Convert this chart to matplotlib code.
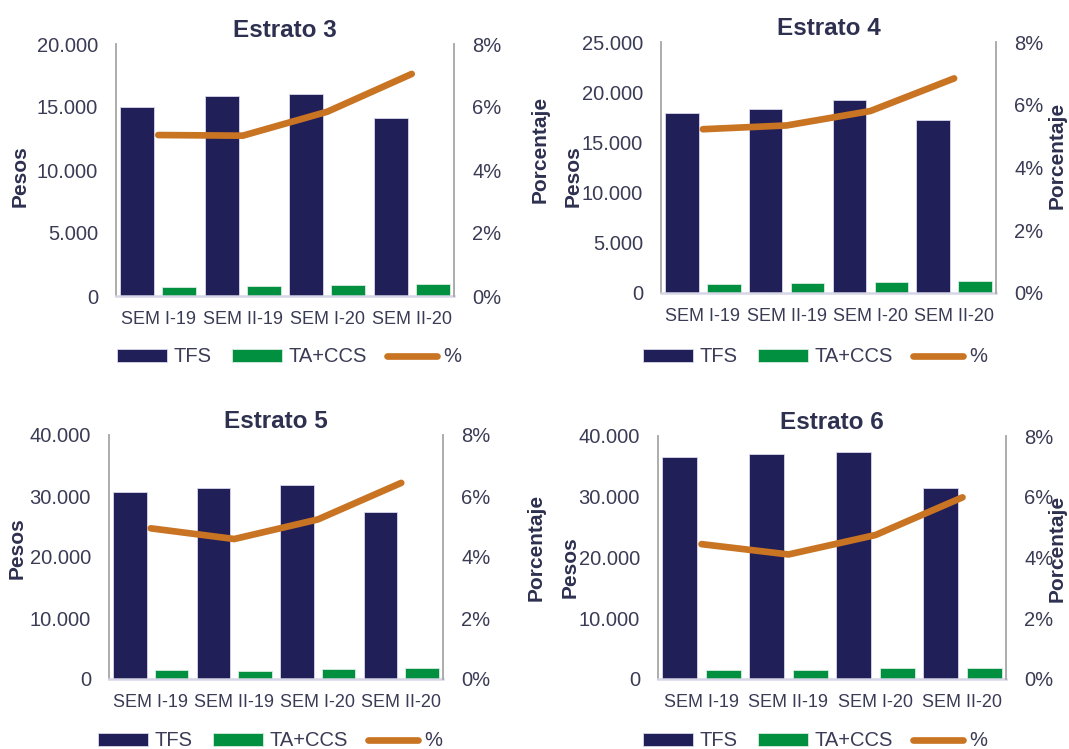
import matplotlib.pyplot as plt
from matplotlib.ticker import FuncFormatter

plt.rcParams['font.family'] = ['Liberation Sans', 'DejaVu Sans']

categories = ["SEM I-19", "SEM II-19", "SEM I-20", "SEM II-20"]

titles = ["Estrato 3", "Estrato 4", "Estrato 5", "Estrato 6"]

tfs_e3 = [15000, 15900, 16000, 14150]
ta_e3 = [750, 790, 900, 980]
pct_e3 = [5.11, 5.09, 5.85, 7.05]

tfs_e4 = [17900, 18300, 19200, 17200]
ta_e4 = [900, 960, 1050, 1150]
pct_e4 = [5.22, 5.34, 5.80, 6.84]

tfs_e5 = [30700, 31300, 31800, 27400]
ta_e5 = [1480, 1320, 1640, 1740]
pct_e5 = [4.94, 4.59, 5.23, 6.43]

tfs_e6 = [36500, 37100, 37300, 31500]
ta_e6 = [1530, 1410, 1750, 1860]
pct_e6 = [4.44, 4.10, 4.74, 5.98]

ymax = [20000, 25000, 40000, 40000]
ystep = [5000, 5000, 10000, 10000]

NAVY = "#201F58"
GREEN = "#00903F"
ORANGE = "#C97423"
TEXT = "#2E3050"
TICK = "#3A3B55"

W, H = 1069, 749

# axes boxes in pixels: left, right, top, bottom
boxes = [(116, 454, 44, 296), (661, 996, 42, 293),
         (109, 443, 435, 679), (658, 1006, 436, 679)]
# label centres in pixels: (pesos x, pesos y, porc x, porc y)
label_pos = [(20, 176, 540, 149), (573, 176, 1057, 155),
             (17, 548, 536, 547), (570, 567, 1057, 548)]
legend_pos = [(289, 357), (815, 357), (270, 741), (815, 741)]

data = [(tfs_e3, ta_e3, pct_e3), (tfs_e4, ta_e4, pct_e4),
        (tfs_e5, ta_e5, pct_e5), (tfs_e6, ta_e6, pct_e6)]

fig = plt.figure(figsize=(W / 100, H / 100), dpi=100)


def thousands(v, _):
    return f"{int(v):,}".replace(",", ".")


for i, (tfs, ta, pct) in enumerate(data):
    l, r, t, b = boxes[i]
    ax = fig.add_axes([l / W, 1 - b / H, (r - l) / W, (b - t) / H])
    x = list(range(len(categories)))
    b1 = ax.bar([v - 0.25 for v in x], tfs, width=0.4, color=NAVY,
                edgecolor="#D8D8EC", linewidth=0.6, label="TFS", zorder=2)
    b2 = ax.bar([v + 0.25 for v in x], ta, width=0.4, color=GREEN,
                edgecolor="#D8ECE0", linewidth=0.6, label="TA+CCS", zorder=2)
    ax.set_xlim(-0.5, 3.5)
    ax.set_ylim(0, ymax[i])
    ax.set_yticks(range(0, ymax[i] + 1, ystep[i]))
    ax.yaxis.set_major_formatter(FuncFormatter(thousands))
    ax.set_xticks(x)
    ax.set_xticklabels(categories)
    ax.tick_params(axis="y", length=0, pad=13, labelsize=14.5, labelcolor=TICK)
    ax.tick_params(axis="x", length=0, pad=11, labelsize=13, labelcolor=TICK)
    ax.spines["top"].set_visible(False)
    ax.spines["left"].set_color("#A6A6A6")
    ax.spines["left"].set_linewidth(1.3)
    ax.spines["right"].set_visible(False)
    ax.spines["bottom"].set_color("#D6D6E6")
    ax.spines["bottom"].set_linewidth(1.8)
    ax.set_title(titles[i], fontsize=17.5, fontweight="bold", color=TEXT, pad=5)

    ax2 = ax.twinx()
    ln, = ax2.plot(x, pct, color=ORANGE, linewidth=4.8,
                   solid_capstyle="round", solid_joinstyle="round", label="%", zorder=3)
    ax2.set_ylim(0, 8)
    ax2.set_yticks([0, 2, 4, 6, 8])
    ax2.yaxis.set_major_formatter(FuncFormatter(lambda v, _: f"{int(v)}%"))
    ax2.tick_params(axis="y", length=0, pad=13, labelsize=14.5, labelcolor=TICK)
    ax2.spines["top"].set_visible(False)
    ax2.spines["left"].set_visible(False)
    ax2.spines["bottom"].set_visible(False)
    ax2.spines["right"].set_color("#A6A6A6")
    ax2.spines["right"].set_linewidth(1.3)

    px, py, qx, qy = label_pos[i]
    fig.text(px / W, 1 - py / H, "Pesos", rotation=90, fontsize=15,
             fontweight="bold", color=TEXT, ha="center", va="center")
    fig.text(qx / W, 1 - qy / H, "Porcentaje", rotation=90, fontsize=15,
             fontweight="bold", color=TEXT, ha="center", va="center")

    lx, ly = legend_pos[i]
    fig.legend([b1, b2, ln], ["TFS", "TA+CCS", "%"], loc="center",
               bbox_to_anchor=(lx / W, 1 - ly / H), ncol=3, frameon=False,
               fontsize=14.5, handlelength=2.5, handleheight=0.6,
               handletextpad=0.3, columnspacing=1.0, borderpad=0,
               labelcolor=TICK)

fig.savefig("out.png", dpi=100)
